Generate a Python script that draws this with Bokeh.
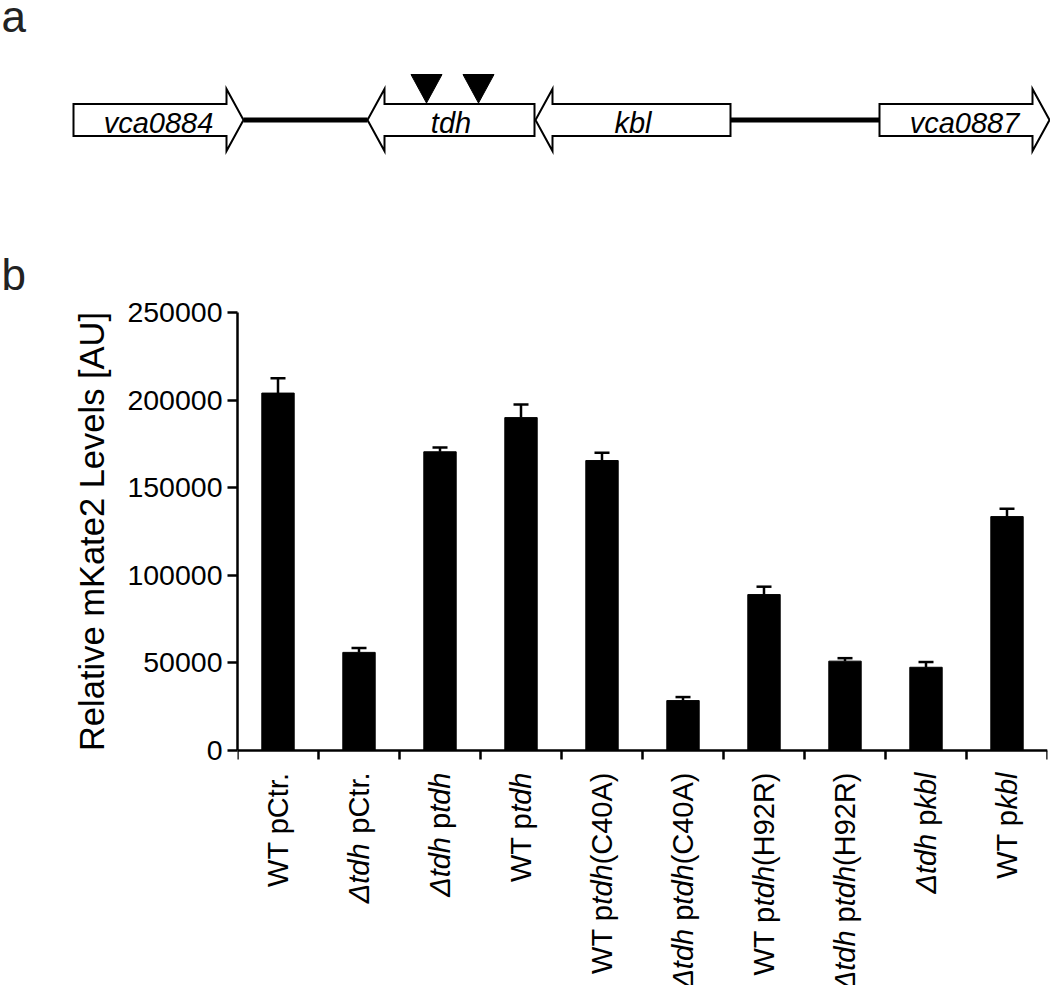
import math
from bokeh.plotting import figure
from bokeh.models import (Range1d, ColumnDataSource, LabelSet, Whisker, TeeHead,
                          FixedTicker, BasicTickFormatter)
from bokeh.layouts import column
from bokeh.embed import file_html
from bokeh.resources import INLINE
from bokeh.core.properties import value

# ---------------- Panel a: gene neighbourhood (diagram units) ----------------
gene_names = ["vca0884", "tdh", "kbl", "vca0887"]
gene_start = [73, 367, 535, 879]
gene_end = [243, 534, 730, 1049]
gene_strand = [1, -1, -1, 1]
insertion_sites = [426, 478]

# ---------------- Panel b: mKate2 levels ----------------
strains = ["WT pCtr.", "Δtdh pCtr.", "Δtdh ptdh", "WT ptdh", "WT ptdh(C40A)",
           "Δtdh ptdh(C40A)", "WT ptdh(H92R)", "Δtdh ptdh(H92R)", "Δtdh pkbl", "WT pkbl"]
strain_parts = [
    [("WT pCtr.", False)],
    [("Δtdh", True), (" pCtr.", False)],
    [("Δtdh", True), (" p", False), ("tdh", True)],
    [("WT p", False), ("tdh", True)],
    [("WT p", False), ("tdh", True), ("(C40A)", False)],
    [("Δtdh", True), (" p", False), ("tdh", True), ("(C40A)", False)],
    [("WT p", False), ("tdh", True), ("(H92R)", False)],
    [("Δtdh", True), (" p", False), ("tdh", True), ("(H92R)", False)],
    [("Δtdh", True), (" p", False), ("kbl", True)],
    [("WT p", False), ("kbl", True)],
]
mkate_mean = [204000, 56000, 170500, 190000, 165500, 28500, 89000, 51000, 47500, 133500]
mkate_err = [8500, 2500, 2500, 7500, 4500, 2000, 4500, 1700, 3000, 4500]
y_ticks = [0, 50000, 100000, 150000, 200000, 250000]
y_title = "Relative mKate2 Levels [AU]"
panel_letters = ["a", "b"]

FONT = "Liberation Sans"
W_PAGE, H_PAGE = 1050, 985


def no_align(fig):
    if "frame_align" in fig.properties():
        fig.frame_align = False


# ---------------- Figure a (diagram + panel letters) ----------------
HA = 292
pa = figure(frame_width=W_PAGE, frame_height=HA, x_range=Range1d(0, W_PAGE),
            y_range=Range1d(HA, 0), output_backend="svg", toolbar_location=None,
            min_border=0, x_axis_type=None, y_axis_type=None)
pa.outline_line_color = None
no_align(pa)

cy, bh, hh, hl = 119.5, 16, 31, 17
lx0, lx1 = [], []
for i in range(len(gene_start) - 1):
    if gene_start[i + 1] - gene_end[i] > 1:
        lx0.append(gene_end[i]); lx1.append(gene_start[i + 1])
pa.segment(x0=lx0, y0=[cy] * len(lx0), x1=lx1, y1=[cy] * len(lx0),
           line_width=5, line_color="black")

xs, ys = [], []
for s, e, st in zip(gene_start, gene_end, gene_strand):
    if st > 0:
        xs.append([s, e - hl, e - hl, e, e - hl, e - hl, s])
    else:
        xs.append([e, s + hl, s + hl, s, s + hl, s + hl, e])
    ys.append([cy - bh, cy - bh, cy - hh, cy, cy + hh, cy + bh, cy + bh])
pa.patches(xs, ys, fill_color="white", line_color="black", line_width=2,
           line_join="miter")

tri_x = [[x - 15.5, x + 15.5, x] for x in insertion_sites]
tri_y = [[74, 74, 102.5] for _ in insertion_sites]
pa.patches(tri_x, tri_y, fill_color="black", line_color="black", line_width=1)

gsrc = ColumnDataSource(dict(x=[(s + e) / 2 for s, e in zip(gene_start, gene_end)],
                             y=[132] * len(gene_names), t=gene_names))
pa.add_layout(LabelSet(x="x", y="y", text="t", source=gsrc, text_align="center",
                       text_baseline="alphabetic", text_font=value(FONT),
                       text_font_size=value("29px"), text_font_style=value("italic"),
                       text_color=value("black")))
lsrc = ColumnDataSource(dict(x=[1, 1], y=[31, 289], t=panel_letters))
pa.add_layout(LabelSet(x="x", y="y", text="t", source=lsrc, text_align="left",
                       text_baseline="alphabetic", text_font=value(FONT),
                       text_font_size=value("44px"), text_color=value("#222222")))

# ---------------- Figure b (bars) ----------------
n = len(strains)
TOP_B = 10
FRAME_TOP, FRAME_BOT = HA + TOP_B, 760          # page rows of frame edges
ROW_0, ROW_MAX = 750, 312                         # page rows of y=0 and y=250000
ppu = (ROW_0 - ROW_MAX) / 250000.0
y_hi = 250000 + (ROW_MAX - FRAME_TOP) / ppu
y_lo = -(FRAME_BOT - ROW_0) / ppu

pb = figure(frame_width=810, frame_height=FRAME_BOT - FRAME_TOP, x_range=Range1d(0, n),
            y_range=Range1d(y_lo, y_hi), x_axis_location="above",
            output_backend="svg", toolbar_location=None,
            min_border_left=237, min_border_right=3, min_border_top=TOP_B,
            min_border_bottom=0)
pb.outline_line_color = None
pb.grid.visible = False
no_align(pb)

bx = [i + 0.5 for i in range(n)]
src = ColumnDataSource(dict(x=bx, top=mkate_mean,
                            upper=[m + e for m, e in zip(mkate_mean, mkate_err)]))
pb.vbar(x="x", top="top", width=0.4, source=src, fill_color="black", line_color="black",
        line_width=1)
pb.add_layout(Whisker(source=src, base="x", lower="top", upper="upper",
                      dimension="height", line_width=2.5, line_color="black",
                      upper_head=TeeHead(size=15, line_width=2.5, line_color="black"),
                      lower_head=None))

for ax in pb.axis:
    ax.axis_line_width = 2.5
    ax.axis_line_color = "black"
    ax.major_tick_line_width = 2.5
    ax.major_tick_line_color = "black"
    ax.minor_tick_in = 0
    ax.minor_tick_out = 0

pb.yaxis.bounds = (0, 250000)
pb.yaxis.ticker = FixedTicker(ticks=y_ticks)
pb.yaxis.formatter = BasicTickFormatter(use_scientific=False)
pb.yaxis.major_tick_in = 0
pb.yaxis.major_tick_out = 10
pb.yaxis.major_label_standoff = 5
pb.yaxis.major_label_text_font = FONT
pb.yaxis.major_label_text_font_size = "28.5px"
pb.yaxis.major_label_text_color = "black"
pb.yaxis.axis_label = y_title
pb.yaxis.axis_label_text_font = FONT
pb.yaxis.axis_label_text_font_size = "34.5px"
pb.yaxis.axis_label_text_font_style = "normal"
pb.yaxis.axis_label_text_color = "black"
pb.yaxis.axis_label_standoff = 13

xt = list(range(n + 1))
pb.xaxis.fixed_location = 0
pb.xaxis.ticker = FixedTicker(ticks=xt)
pb.xaxis.major_tick_out = 0
pb.xaxis.major_tick_in = 9
pb.xaxis.major_label_standoff = 0
pb.xaxis.major_label_overrides = {t: "" for t in xt}

# ---------------- Figure c (category labels, shares the x scale) ----------------
HC = H_PAGE - FRAME_BOT
pc = figure(frame_width=810, frame_height=HC, x_range=pb.x_range, y_range=Range1d(-HC, 0),
            output_backend="svg", toolbar_location=None, min_border_left=237,
            min_border_right=3, min_border_top=0, min_border_bottom=0,
            x_axis_type=None, y_axis_type=None)
pc.outline_line_color = None
pc.grid.visible = False
no_align(pc)

# widths from Arial/Liberation Sans metrics (per 1000 em)
W = {"W": 944, "T": 611, " ": 278, "p": 556, "C": 722, "t": 278, "r": 333, ".": 278,
     "Δ": 668, "d": 556, "h": 556, "(": 333, ")": 333, "4": 556, "0": 556, "A": 667,
     "H": 722, "9": 556, "2": 556, "R": 722, "k": 500, "b": 556, "l": 222}
FS = 29.0
TOP_GAP = 772 - FRAME_BOT


def width(s):
    return sum(W.get(c, 556) for c in s) / 1000.0 * FS


norm = dict(x=[], y=[], t=[], off=[])
ital = dict(x=[], y=[], t=[], off=[])
for i, parts in enumerate(strain_parts):
    for k, (txt, it) in enumerate(parts):
        after = sum(width(p[0]) for p in parts[k + 1:])
        d = ital if it else norm
        d["x"].append(i + 0.5)
        d["y"].append(0)
        d["t"].append(txt.strip())
        d["off"].append(-(TOP_GAP + after))

for d, style in ((norm, "normal"), (ital, "italic")):
    pc.add_layout(LabelSet(x="x", y="y", text="t", y_offset="off",
                           source=ColumnDataSource(d), angle=math.pi / 2,
                           text_align="right", text_baseline="middle",
                           text_font=value(FONT), text_font_size=value("29px"),
                           text_font_style=value(style), text_color=value("black")))

layout = column(pa, pb, pc)
open("out.html", "w").write(file_html(layout, INLINE))
